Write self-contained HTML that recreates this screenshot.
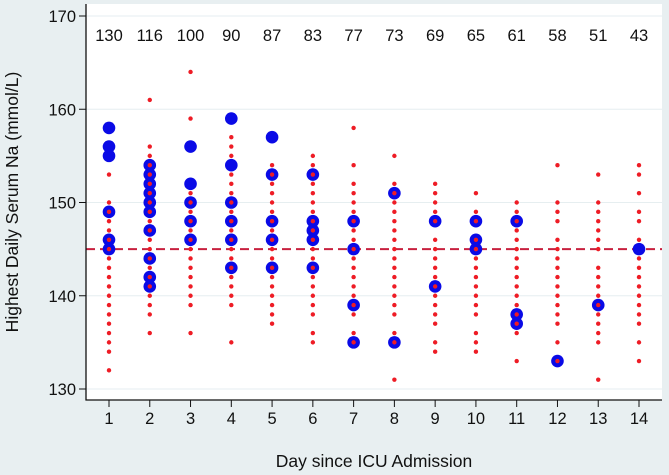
<!DOCTYPE html>
<html><head><meta charset="utf-8"><style>
html,body{margin:0;padding:0;background:#e8eff1;}
svg{display:block;font-family:"Liberation Sans",sans-serif;}
</style></head><body>
<svg id="chart" width="669" height="475">
<rect x="0" y="0" width="669" height="475" fill="#e8eff1"/>
<rect x="86" y="4" width="576" height="396" fill="#ffffff"/>
<g id="grid"></g><g id="blue"></g><g id="red"></g><g id="axes"></g>
<text x="18" y="202" transform="rotate(-90 18 202)" text-anchor="middle" font-size="17.5" fill="#111">Highest Daily Serum Na (mmol/L)</text>
<text x="374" y="467" text-anchor="middle" font-size="17.5" fill="#111">Day since ICU Admission</text>
</svg>
<script>
const days=[1,2,3,4,5,6,7,8,9,10,11,12,13,14];
const counts=[130,116,100,90,87,83,77,73,69,65,61,58,51,43];
const yTicks=[130,140,150,160,170];
const threshold=145;
const redVals=[
[153,150,149,148,147,146,145,144,143,142,141,140,139,138,137,136,135,134,132],
[161,156,155,154,153,152,151,150,149,148,147,146,145,144,143,142,141,140,139,138,136],
[164,159,151,150,149,148,147,146,145,144,143,142,141,140,139,136],
[157,156,155,153,152,151,150,149,148,147,146,145,144,143,142,141,140,139,135],
[154,153,152,151,150,149,148,147,146,145,144,143,142,141,140,139,138,137],
[155,154,153,152,151,150,149,148,147,146,145,144,143,142,141,140,139,138,136,135],
[158,154,152,151,150,149,148,147,146,145,144,143,142,141,140,139,138,136,135],
[155,152,151,150,149,148,147,146,145,144,143,142,141,140,139,138,136,135,131],
[152,151,150,149,148,146,145,144,143,142,141,140,139,138,137,135,134],
[151,149,148,146,145,144,143,142,141,140,139,138,136,135,134],
[150,149,148,147,146,145,144,143,142,141,140,139,138,137,136,133],
[154,150,149,148,146,145,144,143,142,141,140,139,138,137,135,133],
[153,150,149,148,147,146,145,143,142,141,140,139,138,137,136,135,131],
[154,153,151,149,148,146,144,143,142,141,140,139,138,137,135,133]];
const blueVals=[
[158,156,155,149,146,145],
[154,153,152,151,150,149,147,144,142,141],
[156,152,150,148,146],
[159,154,150,148,146,143],
[157,153,148,146,143],
[153,148,147,146,143],
[148,145,139,135],
[151,135],
[148,141],
[148,146,145],
[148,138,137],
[133],
[139],
[145]];
const NS='http://www.w3.org/2000/svg';
const xS=d=>109+(d-1)*(639-109)/13;
const yS=v=>389-(v-130)*(389-16)/40;
function mk(tag,attrs,parent){const e=document.createElementNS(NS,tag);for(const k in attrs)e.setAttribute(k,attrs[k]);document.getElementById(parent).appendChild(e);return e;}
yTicks.forEach(t=>{
 const g=mk('line',{x1:86,x2:662,y1:yS(t),y2:yS(t),stroke:'#e6eef0','stroke-width':1},'grid');
 
 
 const tk=mk('line',{x1:79,x2:86,y1:yS(t),y2:yS(t),stroke:'#111','stroke-width':1},'axes');
 
 
 const tl=mk('text',{x:76,y:yS(t)+6,'text-anchor':'end','font-size':16.5,fill:'#111'},'axes');
 tl.textContent=t;
 
 
});
const th=mk('line',{x1:86,x2:662,y1:yS(threshold),y2:yS(threshold),stroke:'#c8203f','stroke-width':2,'stroke-dasharray':'9,5'},'grid');


days.forEach((d,i)=>{
 const x=xS(d);
 blueVals[i].forEach(v=>{
  const c=mk('circle',{cx:x,cy:yS(v),r:6.3,fill:'#0a0ae6'},'blue');
  
  
 });
 redVals[i].forEach(v=>{
  const c=mk('circle',{cx:x,cy:yS(v),r:2.2,fill:'#ee1c25'},'red');
  
  
 });
 const ct=mk('text',{x:x,y:41,'text-anchor':'middle','font-size':16.5,fill:'#111'},'axes');
 ct.textContent=counts[i];
 
 
 const tk=mk('line',{x1:x,x2:x,y1:400,y2:407,stroke:'#111','stroke-width':1},'axes');
 
 
 const tl=mk('text',{x:x,y:424,'text-anchor':'middle','font-size':16.5,fill:'#111'},'axes');
 tl.textContent=d;
 
 
});
const ya=mk('line',{x1:86,x2:86,y1:4,y2:400.5,stroke:'#111','stroke-width':1.3},'axes');


const xa=mk('line',{x1:85.5,x2:662,y1:400,y2:400,stroke:'#111','stroke-width':1.3},'axes');


</script>
</body></html>
